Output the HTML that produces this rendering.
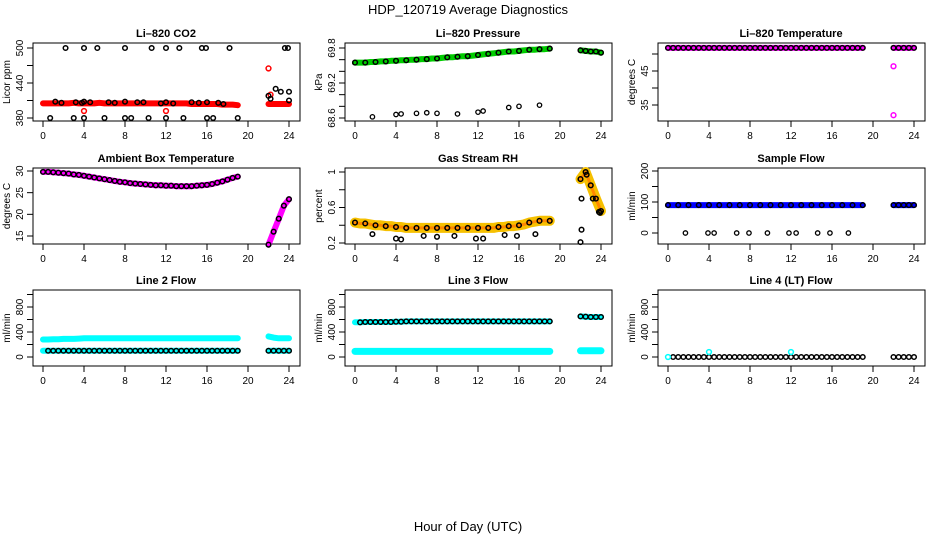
<!DOCTYPE html>
<html><head><meta charset="utf-8"><style>
body{margin:0;background:#fff}
svg{display:block;font-family:"Liberation Sans",Arial,sans-serif}
</style></head><body>
<svg id="c" width="936" height="540">
<text x="468" y="14" font-size="13" text-anchor="middle">HDP_120719  Average Diagnostics</text>
<text x="468" y="531" font-size="13" text-anchor="middle">Hour of Day (UTC)</text>
</svg>
<script>
const hours=[0,0.5,1,1.5,2,2.5,3,3.5,4,4.5,5,5.5,6,6.5,7,7.5,8,8.5,9,9.5,10,10.5,11,11.5,12,12.5,13,13.5,14,14.5,15,15.5,16,16.5,17,17.5,18,18.5,19,22,22.5,23,23.5,24];
const xTicks=[0,4,8,12,16,20,24];
// CO2
const co2Red=[405,405,405,405,405,405,406,405,405,405,405,406,405,405,405,405,405,405,405,405,405,405,405,405,405,405,405,405,405,404,404,404,404,404,404,403,403,403,402,404,404,404,404,404];
const co2OutX=[4,12,22,22.2];
const co2OutY=[392,392,465,420];
const co2BlkX=[2.2,4,5.3,8,10.6,12,13.3,15.5,15.9,18.2,23.6,23.9,0.7,3,4,6,8,8.6,10.3,12,13.7,16,16.6,19,1.2,1.8,3.2,3.8,4,4.6,6.4,7,8,9.2,9.8,11.5,12,12.7,14.5,15.2,16,17.1,17.6,22,22.2,22.7,23.2,24,24];
const co2BlkY=[500,500,500,500,500,500,500,500,500,500,500,500,380,380,380,380,380,380,380,380,380,380,380,380,408,406,407,406,408,407,407,406,408,407,407,405,407,405,407,406,407,406,404,418,413,430,425,425,410];
// pressure
const presGreen=[69.55,69.55,69.55,69.56,69.56,69.57,69.57,69.58,69.58,69.59,69.59,69.6,69.6,69.61,69.61,69.62,69.62,69.63,69.64,69.64,69.65,69.66,69.66,69.67,69.68,69.69,69.7,69.71,69.72,69.73,69.74,69.74,69.75,69.76,69.77,69.77,69.78,69.78,69.79,69.76,69.75,69.74,69.74,69.72];
const presLowX=[1.7,4,4.5,6,7,8,10,12,12.5,15,16,18];
const presLowY=[68.62,68.66,68.67,68.68,68.69,68.68,68.67,68.7,68.72,68.78,68.8,68.82];
// temperature
const tempMag=[51.8,51.8,51.8,51.8,51.8,51.8,51.8,51.8,51.8,51.8,51.8,51.8,51.8,51.8,51.8,51.8,51.8,51.8,51.8,51.8,51.8,51.8,51.8,51.8,51.8,51.8,51.8,51.8,51.8,51.8,51.8,51.8,51.8,51.8,51.8,51.8,51.8,51.8,51.8,51.8,51.8,51.8,51.8,51.8];
const tempOutX=[22,22];
const tempOutY=[46.4,32.0];
// ambient
const ambMag=[29.8,29.8,29.7,29.6,29.5,29.4,29.2,29.1,28.9,28.7,28.5,28.3,28.1,27.9,27.7,27.5,27.4,27.2,27.1,27,26.9,26.8,26.7,26.7,26.6,26.6,26.5,26.5,26.5,26.5,26.6,26.7,26.8,27,27.3,27.6,28,28.4,28.7,13,16,19,22,23.5];
// RH
const rhVals=[0.43,0.42,0.42,0.41,0.4,0.4,0.39,0.39,0.38,0.38,0.37,0.37,0.37,0.37,0.37,0.37,0.37,0.37,0.37,0.37,0.37,0.37,0.37,0.37,0.37,0.37,0.37,0.37,0.38,0.38,0.39,0.39,0.4,0.41,0.43,0.44,0.45,0.45,0.45,0.92,1.0,0.85,0.7,0.56];
const rhOutX=[22,22.1,1.7,4,4.5,6.7,8,9.7,11.8,12.5,14.6,15.8,17.6,22.1,22.6,23.2,23.8,23.9];
const rhOutY=[0.21,0.35,0.3,0.25,0.24,0.28,0.27,0.28,0.25,0.25,0.29,0.28,0.3,0.7,0.97,0.7,0.55,0.54];
// sample flow
const sampBlue=[90,90,90,90,90,90,90,90,90,90,90,90,90,90,90,90,90,90,90,90,90,90,90,90,90,90,90,90,90,90,90,90,90,90,90,90,90,90,90,90,90,90,90,90];
const sampZeroX=[1.7,3.9,4.5,6.7,7.9,9.7,11.8,12.5,14.6,15.8,17.6];
const sampZeroY=[0,0,0,0,0,0,0,0,0,0,0];
// line flows
const l2Cyan=[280,280,285,285,290,290,290,295,300,300,300,300,300,300,300,300,300,300,300,300,300,300,300,300,300,300,300,300,300,300,300,300,300,300,300,300,300,300,300,330,310,300,300,300];
const l2Low=[100,100,100,100,100,100,100,100,100,100,100,100,100,100,100,100,100,100,100,100,100,100,100,100,100,100,100,100,100,100,100,100,100,100,100,100,100,100,100,100,100,100,100,100];
const l3Cyan=[90,90,90,90,90,90,90,90,90,90,90,90,90,90,90,90,90,90,90,90,90,90,90,90,90,90,90,90,90,90,90,90,90,90,90,90,90,90,90,100,100,100,100,100];
const l3High=[555,555,560,560,560,560,560,560,565,565,570,570,570,570,570,570,570,570,570,570,570,570,570,570,570,570,570,570,570,570,570,570,570,570,570,570,570,570,570,650,645,640,640,640];
const l4Zero=[0,0,0,0,0,0,0,0,0,0,0,0,0,0,0,0,0,0,0,0,0,0,0,0,0,0,0,0,0,0,0,0,0,0,0,0,0,0,0,0,0,0,0,0];
const l4CyanX=[0,4,12];
const l4CyanY=[0,80,80];

const svg=document.getElementById('c');
const NS='http://www.w3.org/2000/svg';
function mk(tag,attrs,parent){const e=document.createElementNS(NS,tag);for(const k in attrs)e.setAttribute(k,attrs[k]);(parent||svg).appendChild(e);return e;}
const cols=[43,355,668], rows=[[43,121],[168,244],[290,366]];

function panel(name,title,ylab,col,row,yA,yB,ticks,labels){
  const g=mk('g',{});
  
  
  const x0=cols[col],[top,bot]=rows[row];
  const sx=h=>x0+h*246/24;
  const sy=v=>yA[1]+(v-yA[0])*(yB[1]-yA[1])/(yB[0]-yA[0]);
  const bx=mk('rect',{x:x0-10,y:top,width:267,height:bot-top,fill:'none',stroke:'#000','stroke-width':1},g);
  
  
  const t=mk('text',{x:x0+123,y:top-6,'font-size':11,'font-weight':'bold','text-anchor':'middle'},g);t.textContent=title;
  
  
  xTicks.forEach(h=>{mk('line',{x1:sx(h),x2:sx(h),y1:bot,y2:bot+6,stroke:'#000'},g);
    const l=mk('text',{x:sx(h),y:bot+18,'font-size':10,'text-anchor':'middle'},g);l.textContent=h;
    
    });
  ticks.forEach(v=>{mk('line',{x1:x0-16,x2:x0-10,y1:sy(v),y2:sy(v),stroke:'#000'},g);});
  labels.forEach(v=>{const l=mk('text',{x:x0-20,y:sy(v),'font-size':10,'text-anchor':'middle',transform:`rotate(-90 ${x0-20} ${sy(v)})`},g);l.textContent=v;
    
    });
  const yl=mk('text',{x:x0-33,y:(top+bot)/2,'font-size':10,'text-anchor':'middle',transform:`rotate(-90 ${x0-33} ${(top+bot)/2})`},g);yl.textContent=ylab;
  
  
  return {g,sx,sy};
}
function pts(p,xs,ys,color,r,w,fill){
  xs.forEach((h,i)=>{const c=mk('circle',{cx:p.sx(h),cy:p.sy(ys[i]),r:r,fill:fill||'none',stroke:color,'stroke-width':w},p.g);
    
    });
}
function band(p,xs,ys,color,w){
  const segs=[[],[]];
  xs.forEach((h,i)=>segs[h>20?1:0].push(p.sx(h).toFixed(1)+','+p.sy(ys[i]).toFixed(1)));
  segs.forEach(s=>{if(s.length){const l=mk('polyline',{points:s.join(' '),fill:'none',stroke:color,'stroke-width':w,'stroke-linecap':'round','stroke-linejoin':'round'},p.g);
    
    }});
}
function every(arr,n){return arr.filter((_,i)=>i%n===0||i>=39);}

let p=panel('co2-panel','Li\u2013820 CO2','Licor ppm',0,0,[380,118],[500,48],[380,410,440,470,500],[380,440,500]);
band(p,hours,co2Red,'#f00',6);pts(p,co2OutX,co2OutY,'#f00',2.4,1.5);pts(p,co2BlkX,co2BlkY,'#000',2.3,1.5);
p=panel('pressure-panel','Li\u2013820 Pressure','kPa',1,0,[68.6,118],[69.8,48],[68.6,68.8,69,69.2,69.4,69.6,69.8],[68.6,69.2,69.8]);
band(p,hours,presGreen,'#0c0',6);pts(p,every(hours,2),every(presGreen,2),'#000',2.3,1.5);pts(p,presLowX,presLowY,'#000',2.2,1.3);
p=panel('temperature-panel','Li\u2013820 Temperature','degrees C',2,0,[45,71],[35,105],[35,40,45,50],[35,45]);
band(p,hours,tempMag,'#f0f',6);pts(p,hours,tempMag,'#000',2.3,1.5);pts(p,tempOutX,tempOutY,'#f0f',2.4,1.5);
p=panel('ambient-panel','Ambient Box Temperature','degrees C',0,1,[30,171],[15,236],[15,20,25,30],[15,20,25,30]);
band(p,hours,ambMag,'#f0f',6);pts(p,hours,ambMag,'#000',2.3,1.5);
p=panel('rh-panel','Gas Stream RH','percent',1,1,[1.0,172],[0.2,243],[0.2,0.4,0.6,0.8,1.0],[0.2,0.6,1.0]);
band(p,hours,rhVals,'#f6c000',10);band(p,hours,rhVals,'#f80',3);pts(p,every(hours,2),every(rhVals,2),'#000',2.3,1.5);pts(p,rhOutX,rhOutY,'#000',2.3,1.5);
p=panel('sample-flow-panel','Sample Flow','ml/min',2,1,[200,171],[0,233],[0,50,100,150,200],[0,100,200]);
band(p,hours,sampBlue,'#00f',6);pts(p,every(hours,2),every(sampBlue,2),'#000',2.3,1.5);pts(p,sampZeroX,sampZeroY,'#000',2.2,1.3);
p=panel('line2-flow-panel','Line 2 Flow','ml/min',0,2,[0,357],[800,307],[0,200,400,600,800,1000],[0,400,800]);
band(p,hours,l2Cyan,'#0ff',6);band(p,hours,l2Low,'#0ff',6);pts(p,hours.slice(1),l2Low.slice(1),'#000',2.3,1.5);
p=panel('line3-flow-panel','Line 3 Flow','ml/min',1,2,[0,357],[800,307],[0,200,400,600,800,1000],[0,400,800]);
band(p,hours,l3Cyan,'#0ff',7);band(p,hours,l3High,'#0ff',6);pts(p,hours.slice(1),l3High.slice(1),'#000',2.3,1.5);
p=panel('line4-flow-panel','Line 4 (LT) Flow','ml/min',2,2,[0,357],[800,307],[0,200,400,600,800,1000],[0,400,800]);
pts(p,hours.slice(1),l4Zero.slice(1),'#000',2.3,1.5);pts(p,l4CyanX,l4CyanY,'#0ff',2.4,1.5);
</script>
</body></html>
